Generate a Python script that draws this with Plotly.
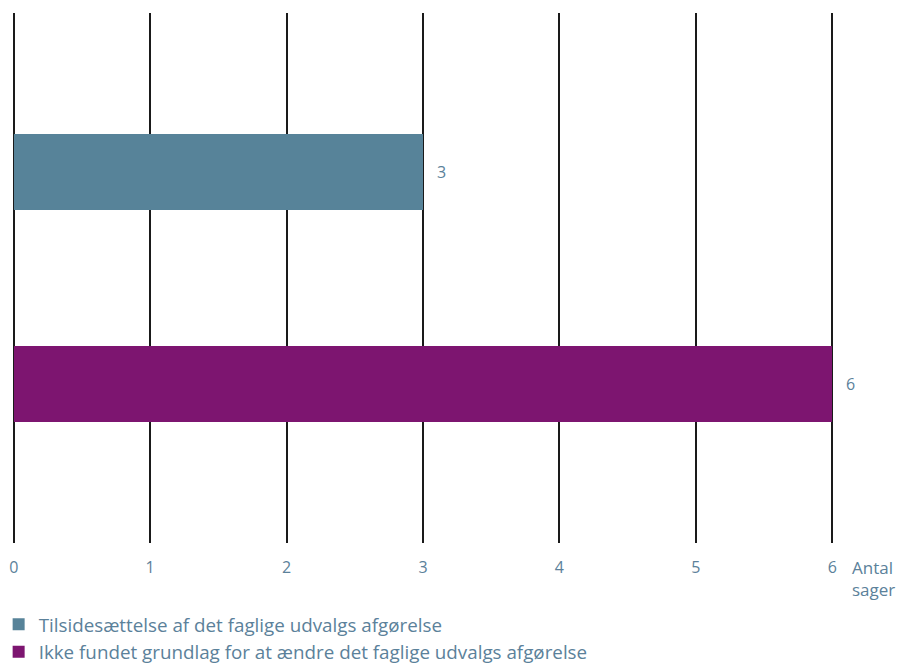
import plotly.graph_objects as go

categories = ["Tilsidesættelse af det faglige udvalgs afgørelse",
              "Ikke fundet grundlag for at ændre det faglige udvalgs afgørelse"]
values = [3, 6]
colors = ["#578399", "#7d1570"]
tick_vals = [0, 1, 2, 3, 4, 5, 6]
tick_text = ["0", "1", "2", "3", "4", "5", "6"]
axis_title = "Antal<br>sager"

TXT = "#5b819a"
FONT = "Open Sans"

fig = go.Figure()
for i, (cat, v, c) in enumerate(zip(categories, values, colors)):
    fig.add_trace(go.Bar(
        x=[v], y=[i], orientation="h", name=cat,
        marker=dict(color=c, line=dict(width=0)),
        width=0.354, hoverinfo="skip",
    ))
    fig.add_annotation(x=v, y=i, xref="x", yref="y", text=str(v),
                       showarrow=False, xanchor="left", xshift=12,
                       font=dict(family=FONT, size=16, color=TXT))

fig.add_annotation(x=1.0, y=0, xref="paper", yref="paper", text=axis_title,
                   showarrow=False, xanchor="left", yanchor="top", align="left",
                   xshift=15, yshift=-11,
                   font=dict(family=FONT, size=17, color=TXT))

fig.update_layout(
    width=901, height=666,
    margin=dict(l=11, r=66, t=13, b=123, autoexpand=False),
    paper_bgcolor="white", plot_bgcolor="white",
    showlegend=True,
    legend=dict(orientation="v", x=-0.015, y=-0.118, xanchor="left", yanchor="top",
                font=dict(family=FONT, size=18.8, color=TXT),
                tracegroupgap=10, itemwidth=30, bgcolor="rgba(0,0,0,0)"),
    bargap=0,
    xaxis=dict(range=[-0.02, 6.02], tickvals=tick_vals, ticktext=tick_text,
               showgrid=True, gridcolor="#1a1a1a", gridwidth=1.5,
               zeroline=True, zerolinecolor="#1a1a1a", zerolinewidth=1.5,
               showline=False, ticks="", ticklabelstandoff=13,
               tickfont=dict(family=FONT, size=16, color=TXT), fixedrange=True),
    yaxis=dict(range=[1.75, -0.75], showticklabels=False, showgrid=False,
               zeroline=False, showline=False, fixedrange=True),
)

fig.write_html("out.html", config={"displayModeBar": False},
               post_script="document.body.style.margin='0';")
